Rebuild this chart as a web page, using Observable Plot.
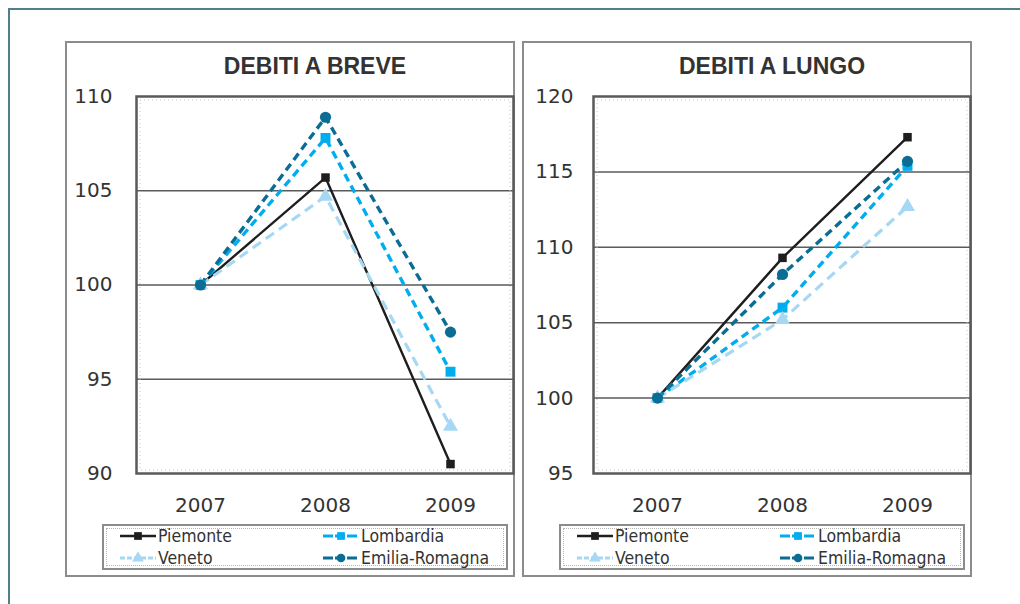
<!DOCTYPE html>
<html>
<head>
<meta charset="utf-8">
<script src="https://cdn.jsdelivr.net/npm/d3@7"></script>
<script src="https://cdn.jsdelivr.net/npm/@observablehq/plot@0.6"></script>
<style>
  html, body { margin: 0; padding: 0; background: #fff; }
  #page { position: relative; width: 1020px; height: 604px; overflow: hidden; font-family: "DejaVu Sans", sans-serif; }
  .frame { position: absolute; left: 8px; top: 8px; width: 1030px; height: 620px; border-top: 2px solid #4f808b; border-left: 2px solid #4f808b; }
  .panel { position: absolute; box-sizing: border-box; border: 2px solid #8c8c8c; background: #fff; }
  .title { position: absolute; width: 300px; text-align: center; font-family: "Liberation Sans", Arial, sans-serif; font-weight: bold; font-size: 23px; line-height: 28px; color: #333; }
  .plot { position: absolute; }
  .legend { position: absolute; box-sizing: border-box; border: 2px solid #8c8c8c; width: 406px; height: 46px; }
  .legend .inner { position: absolute; left: 2px; top: 2px; right: 2px; bottom: 2px; border: 1px dotted #b5b5b5; }
  .entry { position: absolute; height: 20px; display: flex; align-items: center; font-family: "DejaVu Sans Condensed", "DejaVu Sans", sans-serif; font-size: 17.5px; color: #333; white-space: nowrap; }
  .entry svg { margin-right: 1px; }
</style>
</head>
<body>
<div id="page">
  <div class="frame"></div>
</div>
<script>
// ---- data ----
const years = ["2007", "2008", "2009"];
const regions = ["Piemonte", "Lombardia", "Veneto", "Emilia-Romagna"];
const colors = ["#1e1e1e", "#00aeef", "#a6d8f4", "#0b6d93"];
const symbols = ["square", "square", "triangle", "circle"];
const dashes = [null, "8,5", "10,6", "8,5"];
const widths = [2.4, 3.4, 3.2, 3.4];
const radii = [4.8, 5.6, 5.6, 5.6];

// DEBITI A BREVE (index 2007 = 100)
const brevePiemonte = [100, 105.7, 90.5];
const breveLombardia = [100, 107.8, 95.4];
const breveVeneto = [100, 104.7, 92.5];
const breveEmilia = [100, 108.9, 97.5];

// DEBITI A LUNGO (index 2007 = 100)
const lungoPiemonte = [100, 109.3, 117.3];
const lungoLombardia = [100, 106.0, 115.4];
const lungoVeneto = [100, 105.2, 112.7];
const lungoEmilia = [100, 108.2, 115.7];

const breveTicks = [90, 95, 100, 105, 110];
const lungoTicks = [95, 100, 105, 110, 115, 120];

const panels = [
  { title: "DEBITI A BREVE", series: [brevePiemonte, breveLombardia, breveVeneto, breveEmilia], ticks: breveTicks, left: 65, pad: 24 },
  { title: "DEBITI A LUNGO", series: [lungoPiemonte, lungoLombardia, lungoVeneto, lungoEmilia], ticks: lungoTicks, left: 522, pad: 20 }
];

const page = document.getElementById("page");

function el(cls, style, text) {
  const d = document.createElement("div");
  d.className = cls;
  Object.assign(d.style, style);
  if (text) d.textContent = text;
  page.appendChild(d);
  return d;
}

for (const p of panels) {
  el("panel", { left: p.left + "px", top: "41px", width: "450px", height: "536px" });
  el("title", { left: (p.left + 250 - 150) + "px", top: "52px" }, p.title);

  const rows = [];
  regions.forEach((r, i) => years.forEach((y, j) => rows.push({ region: r, year: y, value: p.series[i][j] })));
  const lo = p.ticks[0], hi = p.ticks[p.ticks.length - 1];

  const marks = [
    Plot.ruleY(p.ticks.slice(1, -1), { stroke: "#5a5a5a", strokeWidth: 1.5 }),
    Plot.frame({ inset: 3.5, stroke: "#c4c4c4", strokeDasharray: "1,3" })
  ];
  regions.forEach((r, i) => {
    const d = rows.filter(o => o.region === r);
    marks.push(Plot.line(d, {
      x: "year", y: "value", stroke: colors[i], strokeWidth: widths[i],
      strokeDasharray: dashes[i] || undefined, strokeLinecap: "butt"
    }));
  });
  regions.forEach((r, i) => {
    const d = rows.filter(o => o.region === r);
    marks.push(Plot.dot(d, {
      x: "year", y: "value", symbol: () => symbols[i], fill: colors[i], stroke: "none", r: radii[i]
    }));
  });
  marks.push(Plot.frame({ stroke: "#5a5a5a", strokeWidth: 2.5 }));
  marks.push(Plot.axisX({ tickSize: 0, tickPadding: 24, fontSize: 20, fill: "#333", label: null }));
  marks.push(Plot.axisY({ ticks: p.ticks, tickSize: 0, tickPadding: p.pad, fontSize: 20, fill: "#333", tickFormat: d => String(d), label: null }));

  const chart = Plot.plot({
    width: 448, height: 440,
    marginLeft: 70, marginRight: 1, marginTop: 20, marginBottom: 43,
    style: { fontFamily: "DejaVu Sans, sans-serif", background: "transparent", overflow: "visible" },
    x: { type: "point", domain: years, padding: 0.5, label: null },
    y: { domain: [lo, hi], label: null },
    symbol: { type: "identity" },
    marks
  });
  chart.classList.add("plot");
  chart.style.left = (p.left + 1) + "px";
  chart.style.top = "76px";
  chart.style.position = "absolute";
  page.appendChild(chart);

  // legend
  const lg = el("legend", { left: (p.left + 37) + "px", top: "524px" });
  const inner = document.createElement("div");
  inner.className = "inner";
  lg.appendChild(inner);
  const pos = [[15, 0], [218, 0], [15, 22], [218, 22]];
  regions.forEach((r, i) => {
    const e = document.createElement("div");
    e.className = "entry";
    e.style.left = pos[i][0] + "px";
    e.style.top = pos[i][1] + "px";
    const ns = "http://www.w3.org/2000/svg";
    const s = document.createElementNS(ns, "svg");
    s.setAttribute("width", "38"); s.setAttribute("height", "14");
    const ln = document.createElementNS(ns, "line");
    ln.setAttribute("x1", "1"); ln.setAttribute("x2", "37");
    ln.setAttribute("y1", "7"); ln.setAttribute("y2", "7");
    ln.setAttribute("stroke", colors[i]); ln.setAttribute("stroke-width", i === 0 ? 2.5 : 3);
    if (dashes[i]) ln.setAttribute("stroke-dasharray", i === 2 ? "5,2" : "10,2");
    s.appendChild(ln);
    const sym = d3.symbol().type(symbols[i] === "square" ? d3.symbolSquare : symbols[i] === "triangle" ? d3.symbolTriangle : d3.symbolCircle).size(60);
    const pth = document.createElementNS(ns, "path");
    pth.setAttribute("d", sym());
    pth.setAttribute("transform", "translate(19,7)");
    pth.setAttribute("fill", colors[i]);
    s.appendChild(pth);
    e.appendChild(s);
    const t = document.createElement("span");
    t.textContent = r;
    e.appendChild(t);
    lg.appendChild(e);
  });
}
</script>
</body>
</html>
